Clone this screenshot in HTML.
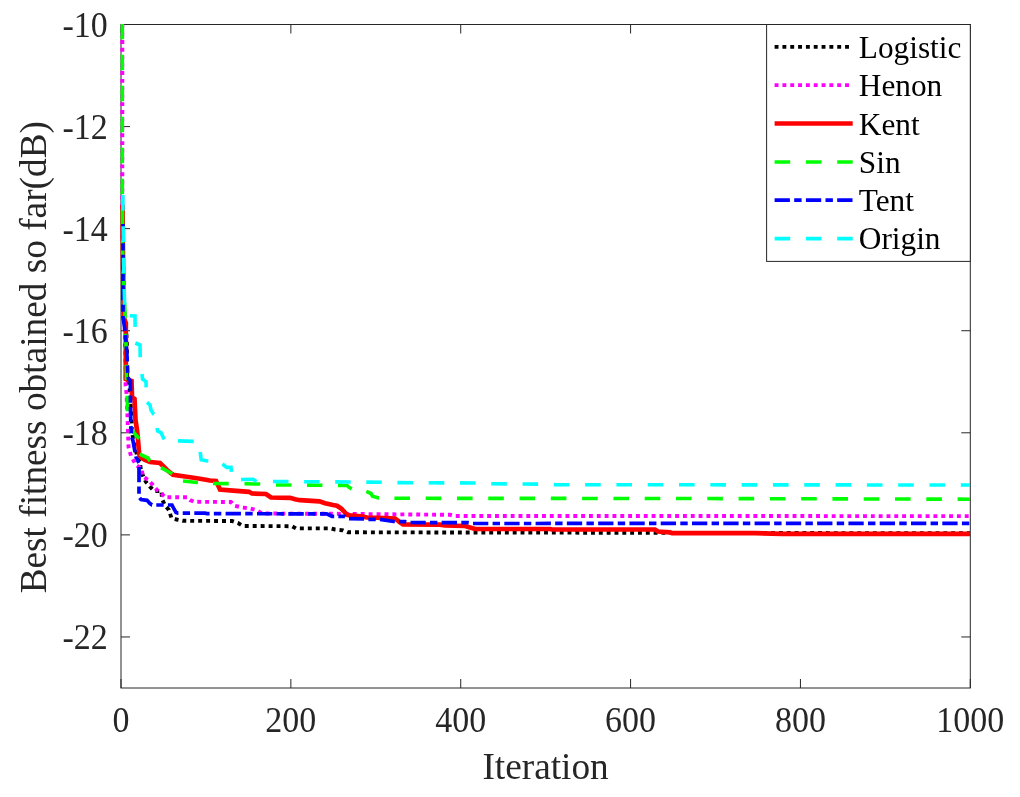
<!DOCTYPE html>
<html><head><meta charset="utf-8"><style>
html,body{margin:0;padding:0;background:#fff;width:1020px;height:797px;overflow:hidden;font-family:"Liberation Serif",serif;}
text{-webkit-font-smoothing:antialiased;}
svg{will-change:transform;}
</style></head><body>
<svg width="1020" height="797" viewBox="0 0 1020 797" style="position:absolute;left:0;top:0">
<rect x="121.0" y="24.5" width="849.3" height="663.5" fill="none" stroke="#262626" stroke-width="1"/>
<line x1="121.00" y1="688.0" x2="121.00" y2="679.0" stroke="#262626" stroke-width="1"/>
<line x1="121.00" y1="24.5" x2="121.00" y2="33.5" stroke="#262626" stroke-width="1"/>
<line x1="290.86" y1="688.0" x2="290.86" y2="679.0" stroke="#262626" stroke-width="1"/>
<line x1="290.86" y1="24.5" x2="290.86" y2="33.5" stroke="#262626" stroke-width="1"/>
<line x1="460.72" y1="688.0" x2="460.72" y2="679.0" stroke="#262626" stroke-width="1"/>
<line x1="460.72" y1="24.5" x2="460.72" y2="33.5" stroke="#262626" stroke-width="1"/>
<line x1="630.58" y1="688.0" x2="630.58" y2="679.0" stroke="#262626" stroke-width="1"/>
<line x1="630.58" y1="24.5" x2="630.58" y2="33.5" stroke="#262626" stroke-width="1"/>
<line x1="800.44" y1="688.0" x2="800.44" y2="679.0" stroke="#262626" stroke-width="1"/>
<line x1="800.44" y1="24.5" x2="800.44" y2="33.5" stroke="#262626" stroke-width="1"/>
<line x1="970.30" y1="688.0" x2="970.30" y2="679.0" stroke="#262626" stroke-width="1"/>
<line x1="970.30" y1="24.5" x2="970.30" y2="33.5" stroke="#262626" stroke-width="1"/>
<line x1="121.0" y1="24.50" x2="130.0" y2="24.50" stroke="#262626" stroke-width="1"/>
<line x1="970.3" y1="24.50" x2="961.3" y2="24.50" stroke="#262626" stroke-width="1"/>
<line x1="121.0" y1="126.58" x2="130.0" y2="126.58" stroke="#262626" stroke-width="1"/>
<line x1="970.3" y1="126.58" x2="961.3" y2="126.58" stroke="#262626" stroke-width="1"/>
<line x1="121.0" y1="228.65" x2="130.0" y2="228.65" stroke="#262626" stroke-width="1"/>
<line x1="970.3" y1="228.65" x2="961.3" y2="228.65" stroke="#262626" stroke-width="1"/>
<line x1="121.0" y1="330.73" x2="130.0" y2="330.73" stroke="#262626" stroke-width="1"/>
<line x1="970.3" y1="330.73" x2="961.3" y2="330.73" stroke="#262626" stroke-width="1"/>
<line x1="121.0" y1="432.81" x2="130.0" y2="432.81" stroke="#262626" stroke-width="1"/>
<line x1="970.3" y1="432.81" x2="961.3" y2="432.81" stroke="#262626" stroke-width="1"/>
<line x1="121.0" y1="534.88" x2="130.0" y2="534.88" stroke="#262626" stroke-width="1"/>
<line x1="970.3" y1="534.88" x2="961.3" y2="534.88" stroke="#262626" stroke-width="1"/>
<line x1="121.0" y1="636.96" x2="130.0" y2="636.96" stroke="#262626" stroke-width="1"/>
<line x1="970.3" y1="636.96" x2="961.3" y2="636.96" stroke="#262626" stroke-width="1"/>
<defs><clipPath id="cp"><rect x="117.0" y="23.8" width="853.0" height="664.2"/></clipPath></defs>
<g clip-path="url(#cp)" fill="none" stroke-linejoin="miter" stroke-miterlimit="2" stroke-linecap="butt">
<path d="M123.80,295.00 L124.50,320.00 L126.50,336.00 L126.90,345.00 L127.20,378.00 L129.50,385.00 L131.50,420.00 L133.00,440.00 L137.00,455.00 L140.00,463.00 L141.00,471.00 L144.00,478.00 L146.00,482.00 L150.00,486.70 L154.00,491.00 L161.50,491.00 L162.00,499.00 L165.00,505.50 L169.00,510.00 L170.50,515.00 L171.50,518.00 L176.50,519.50 L183.00,520.80 L190.20,520.83" stroke="#000000" stroke-width="3.9" stroke-dasharray="3.894 3.924"/>
<path d="M190.20,520.83 L232.00,521.00 L238.00,523.00 L243.00,526.00 L292.00,526.20 L296.00,528.40 L331.00,528.40 L335.00,529.50 L343.00,530.30 L348.00,532.30 L426.60,532.43" stroke="#000000" stroke-width="3.9" stroke-dasharray="3.963 3.994"/>
<path d="M426.60,532.43 L655.00,532.80 L970.00,533.30" stroke="#000000" stroke-width="3.9" stroke-dasharray="3.900 3.930"/>
<path d="M122.30,-7.10 L122.30,40.00" stroke="#FF00FF" stroke-width="3.9" stroke-dasharray="3.910 3.940"/>
<path d="M122.30,40.00 L122.30,200.00 L123.00,260.00 L124.50,320.00 L125.60,370.00 L125.60,386.00 L126.50,393.00 L127.50,417.00 L128.00,432.00 L128.50,447.00 L131.00,456.00 L136.00,465.00 L142.00,469.00 L142.50,476.00 L148.00,480.00 L153.00,485.00 L157.00,490.00 L160.00,492.00 L163.00,495.00 L165.00,497.30 L175.20,497.30" stroke="#FF00FF" stroke-width="3.9" stroke-dasharray="3.875 3.905"/>
<path d="M175.20,497.30 L187.00,497.30 L190.00,500.00 L194.00,501.80 L213.00,501.90" stroke="#FF00FF" stroke-width="3.9" stroke-dasharray="3.907 3.937"/>
<path d="M213.00,501.90 L231.00,502.00 L234.00,505.50 L242.00,507.50 L250.00,508.30 L256.00,510.00 L262.00,513.50 L335.00,513.80 L450.00,514.80 L455.00,516.00 L463.70,516.00" stroke="#FF00FF" stroke-width="3.9" stroke-dasharray="3.952 3.983"/>
<path d="M463.70,516.00 L894.30,516.09" stroke="#FF00FF" stroke-width="3.9" stroke-dasharray="3.900 3.930"/>
<path d="M894.30,516.09 L970.00,516.10" stroke="#FF00FF" stroke-width="3.9" stroke-dasharray="3.900 3.930"/>
<path d="M122.50,205.00 L123.00,260.00 L123.50,300.00 L123.80,318.00 L125.80,323.00 L125.80,379.00 L131.50,381.00 L132.00,397.00 L134.50,399.00 L135.50,420.00 L137.00,430.00 L138.00,440.00 L138.80,450.00 L139.20,454.00 L141.00,457.50 L145.00,460.00 L150.00,462.00 L160.00,463.00 L164.00,467.00 L167.00,470.00 L173.00,474.80 L185.00,476.50 L195.00,478.00 L200.00,478.70 L210.00,480.50 L216.00,481.00 L218.00,485.00 L220.00,489.50 L233.00,490.60 L249.00,491.80 L252.00,493.50 L266.00,494.00 L271.00,497.50 L290.00,497.80 L295.00,499.30 L300.00,500.20 L319.50,501.40 L325.00,503.30 L333.00,505.00 L337.00,505.70 L341.50,508.80 L344.50,512.00 L347.00,514.90 L350.00,515.40 L363.00,516.50 L367.00,517.50 L385.00,518.00 L395.00,518.50 L400.00,522.30 L403.00,524.30 L440.00,524.60 L445.00,525.50 L465.00,526.00 L470.00,527.50 L475.00,529.00 L550.00,529.00 L552.00,529.50 L655.00,529.50 L658.00,531.50 L670.00,532.30 L672.00,533.10 L755.00,533.10 L782.00,533.90 L970.00,533.90" stroke="#FF0000" stroke-width="4.7"/>
<path d="M122.30,-7.60 L122.30,23.80" stroke="#00FF00" stroke-width="3.6" stroke-dasharray="15.650 15.750"/>
<path d="M122.30,23.80 L122.30,200.00 L122.80,260.00 L124.50,300.00 L126.00,345.00 L126.50,378.00 L127.30,400.00 L127.50,415.00 L129.00,424.00 L133.70,432.50 L139.30,438.80 L139.00,450.00 L139.50,454.00 L139.69,454.09" stroke="#00FF00" stroke-width="3.6" stroke-dasharray="15.450 15.549"/>
<path d="M139.69,454.09 L148.00,458.00 L149.60,460.50 L160.00,467.00 L161.02,467.56" stroke="#00FF00" stroke-width="3.6" stroke-dasharray="12.749 12.830"/>
<path d="M161.02,467.56 L172.70,474.00 L178.00,478.00 L183.00,481.00" stroke="#00FF00" stroke-width="3.6" stroke-dasharray="12.862 12.945"/>
<path d="M183.00,481.00 L197.00,482.50 L213.00,483.50" stroke="#00FF00" stroke-width="3.6" stroke-dasharray="15.008 15.104"/>
<path d="M213.00,483.50 L228.00,483.60 L244.50,483.81" stroke="#00FF00" stroke-width="3.6" stroke-dasharray="15.702 15.802"/>
<path d="M244.50,483.81 L260.00,484.00 L276.00,485.00" stroke="#00FF00" stroke-width="3.6" stroke-dasharray="15.715 15.815"/>
<path d="M276.00,485.00 L291.00,485.00 L338.00,485.42" stroke="#00FF00" stroke-width="3.6" stroke-dasharray="15.451 15.550"/>
<path d="M338.00,485.42 L347.00,485.50 L349.00,487.30 L352.00,489.00 L366.30,491.30" stroke="#00FF00" stroke-width="3.6" stroke-dasharray="14.764 14.858"/>
<path d="M366.30,491.30 L371.00,493.50 L372.50,496.30 L377.60,497.80 L394.40,498.18" stroke="#00FF00" stroke-width="3.6" stroke-dasharray="15.196 15.293"/>
<path d="M394.40,498.18 L400.00,498.30 L676.00,498.49" stroke="#00FF00" stroke-width="3.6" stroke-dasharray="15.594 15.694"/>
<path d="M676.00,498.49 L690.00,498.50 L895.00,499.01" stroke="#00FF00" stroke-width="3.6" stroke-dasharray="15.593 15.693"/>
<path d="M895.00,499.01 L970.00,499.20" stroke="#00FF00" stroke-width="3.6" stroke-dasharray="15.600 15.700"/>
<path d="M123.00,224.00 L123.00,260.00 L123.00,317.00 L124.80,329.00 L126.00,341.00 L127.00,356.00 L127.70,372.00 L128.50,379.00 L130.40,381.00 L130.50,406.00 L130.80,425.00 L131.50,436.00 L133.00,441.00 L135.00,452.00 L136.00,457.00 L139.00,463.00 L139.00,467.00" stroke="#0000FF" stroke-width="3.7" stroke-dasharray="14.987 4.212 7.249 4.212"/>
<path d="M139.00,467.00 L139.00,497.00 L141.00,499.50 L147.00,500.30 L150.00,503.50 L152.00,505.00 L172.00,505.00 L174.00,509.00 L176.00,512.50 L178.00,513.10 L194.30,513.10" stroke="#0000FF" stroke-width="3.7" stroke-dasharray="15.159 4.260 7.332 4.260"/>
<path d="M194.30,513.10 L205.00,513.10 L207.00,513.60 L225.60,513.65" stroke="#0000FF" stroke-width="3.7" stroke-dasharray="15.330 4.308 7.415 4.308"/>
<path d="M225.60,513.65 L257.00,513.73" stroke="#0000FF" stroke-width="3.7" stroke-dasharray="15.349 4.314 7.424 4.314"/>
<path d="M257.00,513.73 L288.30,513.80" stroke="#0000FF" stroke-width="3.7" stroke-dasharray="15.300 4.300 7.400 4.300"/>
<path d="M288.30,513.80 L320.00,513.88" stroke="#0000FF" stroke-width="3.7" stroke-dasharray="15.496 4.355 7.495 4.355"/>
<path d="M320.00,513.88 L326.60,513.90 L332.00,516.30 L345.00,516.40 L349.00,518.60" stroke="#0000FF" stroke-width="3.7" stroke-dasharray="14.701 4.132 7.110 4.132"/>
<path d="M349.00,518.60 L364.00,518.90 L368.00,519.30 L380.00,519.30" stroke="#0000FF" stroke-width="3.7" stroke-dasharray="15.165 4.262 7.334 4.262"/>
<path d="M380.00,519.30 L393.70,521.50 L405.00,521.70 L410.00,522.50 L410.50,522.50" stroke="#0000FF" stroke-width="3.7" stroke-dasharray="15.027 4.223 7.268 4.223"/>
<path d="M410.50,522.50 L441.60,522.61" stroke="#0000FF" stroke-width="3.7" stroke-dasharray="15.202 4.273 7.353 4.273"/>
<path d="M441.60,522.61 L468.00,522.70 L473.00,523.50" stroke="#0000FF" stroke-width="3.7" stroke-dasharray="15.380 4.322 7.439 4.322"/>
<path d="M473.00,523.50 L504.30,523.49" stroke="#0000FF" stroke-width="3.7" stroke-dasharray="15.300 4.300 7.400 4.300"/>
<path d="M504.30,523.49 L911.00,523.32" stroke="#0000FF" stroke-width="3.7" stroke-dasharray="15.292 4.298 7.396 4.298"/>
<path d="M911.00,523.32 L970.00,523.30" stroke="#0000FF" stroke-width="3.7" stroke-dasharray="15.300 4.300 7.400 4.300"/>
<path d="M122.80,195.00 L123.50,260.00 L124.50,300.00 L125.00,315.50 L129.79,315.74" stroke="#00FFFF" stroke-width="3.6" stroke-dasharray="15.615 15.715"/>
<path d="M129.79,315.74 L135.00,316.00 L135.30,343.00 L135.37,343.03" stroke="#00FFFF" stroke-width="3.6" stroke-dasharray="16.095 16.198"/>
<path d="M135.37,343.03 L140.00,345.00 L140.50,372.00 L142.00,374.00" stroke="#00FFFF" stroke-width="3.6" stroke-dasharray="17.212 17.322"/>
<path d="M142.00,374.00 L142.50,379.00 L146.00,381.60 L146.50,402.00 L146.99,402.42" stroke="#00FFFF" stroke-width="3.6" stroke-dasharray="15.172 15.270"/>
<path d="M146.99,402.42 L150.00,405.00 L151.00,410.00 L153.50,414.00 L156.00,416.00 L157.00,428.00" stroke="#00FFFF" stroke-width="3.6" stroke-dasharray="14.463 14.555"/>
<path d="M157.00,428.00 L157.60,431.00 L161.00,432.50 L163.00,437.00 L165.00,440.50 L178.00,440.88" stroke="#00FFFF" stroke-width="3.6" stroke-dasharray="14.324 14.416"/>
<path d="M178.00,440.88 L199.00,441.50 L200.20,452.00" stroke="#00FFFF" stroke-width="3.6" stroke-dasharray="15.737 15.837"/>
<path d="M200.20,452.00 L201.20,459.80 L207.30,461.00 L221.00,462.00 L222.40,464.00" stroke="#00FFFF" stroke-width="3.6" stroke-dasharray="15.081 15.178"/>
<path d="M222.40,464.00 L226.70,467.40 L231.00,467.40 L231.70,474.00 L234.00,478.50 L241.00,479.50" stroke="#00FFFF" stroke-width="3.6" stroke-dasharray="14.226 14.317"/>
<path d="M241.00,479.50 L253.00,479.20 L256.50,481.50 L273.00,481.50" stroke="#00FFFF" stroke-width="3.6" stroke-dasharray="16.294 16.398"/>
<path d="M273.00,481.50 L290.00,481.60 L390.00,482.30 L395.00,482.60 L397.40,482.61" stroke="#00FFFF" stroke-width="3.6" stroke-dasharray="15.502 15.601"/>
<path d="M397.40,482.61 L480.00,483.00 L490.00,483.80 L550.00,484.20 L555.00,484.70 L679.00,484.79" stroke="#00FFFF" stroke-width="3.6" stroke-dasharray="15.598 15.698"/>
<path d="M679.00,484.79 L690.00,484.80 L898.20,484.95" stroke="#00FFFF" stroke-width="3.6" stroke-dasharray="15.607 15.707"/>
<path d="M898.20,484.95 L970.00,485.00" stroke="#00FFFF" stroke-width="3.6" stroke-dasharray="15.600 15.700"/>
</g>
<g font-family="Liberation Serif" font-size="34" fill="#262626">
<text transform="translate(121.00,731.6) scale(1,1.065)" text-anchor="middle">0</text>
<text transform="translate(290.86,731.6) scale(1,1.065)" text-anchor="middle">200</text>
<text transform="translate(460.72,731.6) scale(1,1.065)" text-anchor="middle">400</text>
<text transform="translate(630.58,731.6) scale(1,1.065)" text-anchor="middle">600</text>
<text transform="translate(800.44,731.6) scale(1,1.065)" text-anchor="middle">800</text>
<text transform="translate(970.30,731.6) scale(1,1.065)" text-anchor="middle">1000</text>
<text transform="translate(107.8,36.50) scale(1,1.065)" text-anchor="end">-10</text>
<text transform="translate(107.8,138.58) scale(1,1.065)" text-anchor="end">-12</text>
<text transform="translate(107.8,240.65) scale(1,1.065)" text-anchor="end">-14</text>
<text transform="translate(107.8,342.73) scale(1,1.065)" text-anchor="end">-16</text>
<text transform="translate(107.8,444.81) scale(1,1.065)" text-anchor="end">-18</text>
<text transform="translate(107.8,546.88) scale(1,1.065)" text-anchor="end">-20</text>
<text transform="translate(107.8,648.96) scale(1,1.065)" text-anchor="end">-22</text>
</g>
<text x="545.6" y="779.4" text-anchor="middle" font-family="Liberation Serif" font-size="37.3" fill="#262626">Iteration</text>
<text transform="translate(45.6,357.2) rotate(-90)" x="0" y="0" text-anchor="middle" font-family="Liberation Serif" font-size="37.3" fill="#262626">Best fitness obtained so far(dB)</text>
<rect x="766.6" y="24.5" width="203.69999999999993" height="236.89999999999998" fill="#fff" stroke="#262626" stroke-width="1"/>
<line x1="774.6" y1="46.9" x2="852.7" y2="46.9" stroke="#000000" stroke-width="3.9" stroke-dasharray="3.9 3.93"/>
<text x="858.8" y="58.30" font-family="Liberation Serif" font-size="31.3" fill="#000">Logistic</text>
<line x1="774.6" y1="85.1" x2="852.7" y2="85.1" stroke="#FF00FF" stroke-width="3.9" stroke-dasharray="3.9 3.93"/>
<text x="858.8" y="96.45" font-family="Liberation Serif" font-size="31.3" fill="#000">Henon</text>
<line x1="774.6" y1="123.5" x2="852.7" y2="123.5" stroke="#FF0000" stroke-width="4.7"/>
<text x="858.8" y="134.60" font-family="Liberation Serif" font-size="31.3" fill="#000">Kent</text>
<line x1="774.6" y1="162.0" x2="852.7" y2="162.0" stroke="#00FF00" stroke-width="3.6" stroke-dasharray="15.6 15.7"/>
<text x="858.8" y="172.75" font-family="Liberation Serif" font-size="31.3" fill="#000">Sin</text>
<line x1="774.6" y1="200.2" x2="852.7" y2="200.2" stroke="#0000FF" stroke-width="3.7" stroke-dasharray="15.3 4.3 7.4 4.3"/>
<text x="858.8" y="210.90" font-family="Liberation Serif" font-size="31.3" fill="#000">Tent</text>
<line x1="774.6" y1="238.6" x2="852.7" y2="238.6" stroke="#00FFFF" stroke-width="3.6" stroke-dasharray="15.6 15.7"/>
<text x="858.8" y="249.05" font-family="Liberation Serif" font-size="31.3" fill="#000">Origin</text>
</svg>
</body></html>
